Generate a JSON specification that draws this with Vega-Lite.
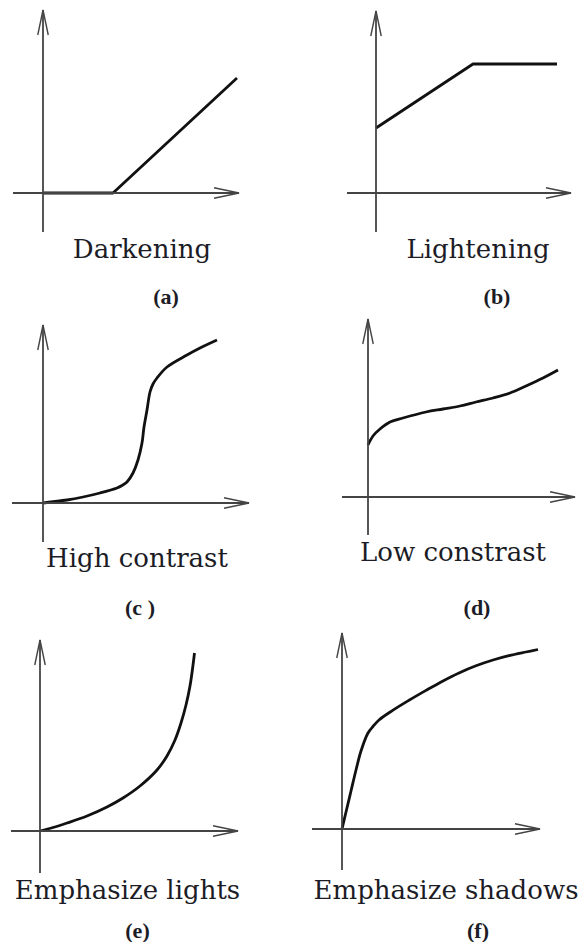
{
  "$schema": "https://vega.github.io/schema/vega-lite/v6.json",
  "padding": 0,
  "background": "white",
  "datasets": {
    "curves": [
      {"panel": "a", "input": 0.0, "output": 0.0},
      {"panel": "a", "input": 0.7, "output": 0.0},
      {"panel": "a", "input": 1.94, "output": 1.15},

      {"panel": "b", "input": 0.0, "output": 0.65},
      {"panel": "b", "input": 0.97, "output": 1.29},
      {"panel": "b", "input": 1.81, "output": 1.29},

      {"panel": "c", "input": 0.0, "output": 0.0},
      {"panel": "c", "input": 0.24, "output": 0.03},
      {"panel": "c", "input": 0.4, "output": 0.06},
      {"panel": "c", "input": 0.57, "output": 0.1},
      {"panel": "c", "input": 0.74, "output": 0.15},
      {"panel": "c", "input": 0.79, "output": 0.175},
      {"panel": "c", "input": 0.84, "output": 0.21},
      {"panel": "c", "input": 0.9, "output": 0.3},
      {"panel": "c", "input": 0.95, "output": 0.43},
      {"panel": "c", "input": 0.99, "output": 0.6},
      {"panel": "c", "input": 1.01, "output": 0.76},
      {"panel": "c", "input": 1.04, "output": 0.93},
      {"panel": "c", "input": 1.07, "output": 1.11},
      {"panel": "c", "input": 1.1, "output": 1.19},
      {"panel": "c", "input": 1.14, "output": 1.25},
      {"panel": "c", "input": 1.24, "output": 1.36},
      {"panel": "c", "input": 1.44, "output": 1.48},
      {"panel": "c", "input": 1.57, "output": 1.55},
      {"panel": "c", "input": 1.74, "output": 1.63},

      {"panel": "d", "input": 0.0, "output": 0.52},
      {"panel": "d", "input": 0.05, "output": 0.61},
      {"panel": "d", "input": 0.12, "output": 0.68},
      {"panel": "d", "input": 0.22, "output": 0.75},
      {"panel": "d", "input": 0.35, "output": 0.79},
      {"panel": "d", "input": 0.58, "output": 0.85},
      {"panel": "d", "input": 0.75, "output": 0.88},
      {"panel": "d", "input": 0.92, "output": 0.91},
      {"panel": "d", "input": 1.08, "output": 0.95},
      {"panel": "d", "input": 1.25, "output": 0.99},
      {"panel": "d", "input": 1.42, "output": 1.04},
      {"panel": "d", "input": 1.58, "output": 1.11},
      {"panel": "d", "input": 1.75, "output": 1.19},
      {"panel": "d", "input": 1.9, "output": 1.27},

      {"panel": "e", "input": 0.0, "output": 0.0},
      {"panel": "e", "input": 0.13, "output": 0.035},
      {"panel": "e", "input": 0.27, "output": 0.08},
      {"panel": "e", "input": 0.47, "output": 0.15},
      {"panel": "e", "input": 0.67, "output": 0.24},
      {"panel": "e", "input": 0.83, "output": 0.33},
      {"panel": "e", "input": 1.0, "output": 0.45},
      {"panel": "e", "input": 1.17, "output": 0.61},
      {"panel": "e", "input": 1.27, "output": 0.75},
      {"panel": "e", "input": 1.35, "output": 0.91},
      {"panel": "e", "input": 1.41, "output": 1.08},
      {"panel": "e", "input": 1.46, "output": 1.26},
      {"panel": "e", "input": 1.5, "output": 1.45},
      {"panel": "e", "input": 1.525, "output": 1.62},
      {"panel": "e", "input": 1.545, "output": 1.78},

      {"panel": "f", "input": 0.0, "output": 0.0},
      {"panel": "f", "input": 0.04, "output": 0.17},
      {"panel": "f", "input": 0.09, "output": 0.38},
      {"panel": "f", "input": 0.14, "output": 0.59},
      {"panel": "f", "input": 0.19, "output": 0.78},
      {"panel": "f", "input": 0.26, "output": 0.96},
      {"panel": "f", "input": 0.31, "output": 1.025},
      {"panel": "f", "input": 0.37, "output": 1.09},
      {"panel": "f", "input": 0.51, "output": 1.188},
      {"panel": "f", "input": 0.67, "output": 1.287},
      {"panel": "f", "input": 0.84, "output": 1.386},
      {"panel": "f", "input": 1.01, "output": 1.481},
      {"panel": "f", "input": 1.17, "output": 1.561},
      {"panel": "f", "input": 1.34, "output": 1.632},
      {"panel": "f", "input": 1.51, "output": 1.69},
      {"panel": "f", "input": 1.67, "output": 1.733},
      {"panel": "f", "input": 1.84, "output": 1.77},
      {"panel": "f", "input": 1.96, "output": 1.795}
    ]
  },
  "columns": 2,
  "align": "each",
  "bounds": "flush",
  "spacing": {"row": 70, "column": 0},
  "concat": [
    {
      "width": 293, "height": 240,
      "layer": [
        {"data": {"name": "curves"}, "transform": [{"filter": "datum.panel === 'a'"}],
         "mark": {"type": "line", "interpolate": "linear", "color": "#111", "strokeWidth": 2.8, "strokeJoin": "round"},
         "encoding": {
           "x": {"field": "input", "type": "quantitative", "scale": {"domain": [-0.43, 2.5], "nice": false, "zero": false}, "axis": null},
           "y": {"field": "output", "type": "quantitative", "scale": {"domain": [-0.47, 1.93], "nice": false, "zero": false}, "axis": null}}},
        {"data": {"values": [{}]}, "mark": {"type": "rule", "color": "#444", "strokeWidth": 1.8},
         "encoding": {"x": {"datum": -0.3, "type": "quantitative", "axis": null}, "x2": {"datum": 1.96}, "y": {"datum": 0, "type": "quantitative", "axis": null}}},
        {"data": {"values": [{}]}, "mark": {"type": "rule", "color": "#444", "strokeWidth": 1.8},
         "encoding": {"x": {"datum": 0, "type": "quantitative", "axis": null}, "y": {"datum": -0.39, "type": "quantitative", "axis": null}, "y2": {"datum": 1.83}}},
        {"data": {"values": [{}]}, "mark": {"type": "point", "shape": "M-2,-0.42L0,0L-2,0.42", "filled": false, "size": 625, "strokeWidth": 1.4, "color": "#444", "opacity": 1, "angle": 0},
         "encoding": {"x": {"datum": 1.96, "type": "quantitative", "axis": null}, "y": {"datum": 0, "type": "quantitative", "axis": null}}},
        {"data": {"values": [{}]}, "mark": {"type": "point", "shape": "M-2,-0.42L0,0L-2,0.42", "filled": false, "size": 625, "strokeWidth": 1.4, "color": "#444", "opacity": 1, "angle": -90},
         "encoding": {"x": {"datum": 0, "type": "quantitative", "axis": null}, "y": {"datum": 1.83, "type": "quantitative", "axis": null}}},
        {"data": {"values": [{}]}, "mark": {"type": "text", "text": "Darkening", "font": "DejaVu Serif", "fontSize": 26, "align": "center", "baseline": "alphabetic", "color": "#1c1c26"},
         "encoding": {"x": {"datum": 0.99, "type": "quantitative", "axis": null}, "y": {"datum": -0.65, "type": "quantitative", "axis": null}}},
        {"data": {"values": [{}]}, "mark": {"type": "text", "text": "(a)", "font": "Liberation Serif", "fontSize": 22, "fontWeight": "bold", "align": "center", "baseline": "alphabetic", "color": "#1c1c26"},
         "encoding": {"x": {"datum": 1.23, "type": "quantitative", "axis": null}, "y": {"datum": -1.11, "type": "quantitative", "axis": null}}}
      ]
    },
    {
      "width": 294, "height": 240,
      "layer": [
        {"data": {"name": "curves"}, "transform": [{"filter": "datum.panel === 'b'"}],
         "mark": {"type": "line", "interpolate": "linear", "color": "#111", "strokeWidth": 2.8, "strokeJoin": "round"},
         "encoding": {
           "x": {"field": "input", "type": "quantitative", "scale": {"domain": [-0.83, 2.11], "nice": false, "zero": false}, "axis": null},
           "y": {"field": "output", "type": "quantitative", "scale": {"domain": [-0.47, 1.93], "nice": false, "zero": false}, "axis": null}}},
        {"data": {"values": [{}]}, "mark": {"type": "rule", "color": "#444", "strokeWidth": 1.8},
         "encoding": {"x": {"datum": -0.29, "type": "quantitative", "axis": null}, "x2": {"datum": 1.95}, "y": {"datum": 0, "type": "quantitative", "axis": null}}},
        {"data": {"values": [{}]}, "mark": {"type": "rule", "color": "#444", "strokeWidth": 1.8},
         "encoding": {"x": {"datum": 0, "type": "quantitative", "axis": null}, "y": {"datum": -0.39, "type": "quantitative", "axis": null}, "y2": {"datum": 1.82}}},
        {"data": {"values": [{}]}, "mark": {"type": "point", "shape": "M-2,-0.42L0,0L-2,0.42", "filled": false, "size": 625, "strokeWidth": 1.4, "color": "#444", "opacity": 1, "angle": 0},
         "encoding": {"x": {"datum": 1.95, "type": "quantitative", "axis": null}, "y": {"datum": 0, "type": "quantitative", "axis": null}}},
        {"data": {"values": [{}]}, "mark": {"type": "point", "shape": "M-2,-0.42L0,0L-2,0.42", "filled": false, "size": 625, "strokeWidth": 1.4, "color": "#444", "opacity": 1, "angle": -90},
         "encoding": {"x": {"datum": 0, "type": "quantitative", "axis": null}, "y": {"datum": 1.82, "type": "quantitative", "axis": null}}},
        {"data": {"values": [{}]}, "mark": {"type": "text", "text": "Lightening", "font": "DejaVu Serif", "fontSize": 26, "align": "center", "baseline": "alphabetic", "color": "#1c1c26"},
         "encoding": {"x": {"datum": 1.02, "type": "quantitative", "axis": null}, "y": {"datum": -0.65, "type": "quantitative", "axis": null}}},
        {"data": {"values": [{}]}, "mark": {"type": "text", "text": "(b)", "font": "Liberation Serif", "fontSize": 22, "fontWeight": "bold", "align": "center", "baseline": "alphabetic", "color": "#1c1c26"},
         "encoding": {"x": {"datum": 1.21, "type": "quantitative", "axis": null}, "y": {"datum": -1.11, "type": "quantitative", "axis": null}}}
      ]
    },
    {
      "width": 293, "height": 240,
      "layer": [
        {"data": {"name": "curves"}, "transform": [{"filter": "datum.panel === 'c'"}],
         "mark": {"type": "line", "interpolate": "catmull-rom", "color": "#111", "strokeWidth": 2.8, "strokeJoin": "round"},
         "encoding": {
           "x": {"field": "input", "type": "quantitative", "scale": {"domain": [-0.43, 2.5], "nice": false, "zero": false}, "axis": null},
           "y": {"field": "output", "type": "quantitative", "scale": {"domain": [-0.47, 1.93], "nice": false, "zero": false}, "axis": null}}},
        {"data": {"values": [{}]}, "mark": {"type": "rule", "color": "#444", "strokeWidth": 1.8},
         "encoding": {"x": {"datum": -0.31, "type": "quantitative", "axis": null}, "x2": {"datum": 2.06}, "y": {"datum": 0, "type": "quantitative", "axis": null}}},
        {"data": {"values": [{}]}, "mark": {"type": "rule", "color": "#444", "strokeWidth": 1.8},
         "encoding": {"x": {"datum": 0, "type": "quantitative", "axis": null}, "y": {"datum": -0.39, "type": "quantitative", "axis": null}, "y2": {"datum": 1.78}}},
        {"data": {"values": [{}]}, "mark": {"type": "point", "shape": "M-2,-0.42L0,0L-2,0.42", "filled": false, "size": 625, "strokeWidth": 1.4, "color": "#444", "opacity": 1, "angle": 0},
         "encoding": {"x": {"datum": 2.06, "type": "quantitative", "axis": null}, "y": {"datum": 0, "type": "quantitative", "axis": null}}},
        {"data": {"values": [{}]}, "mark": {"type": "point", "shape": "M-2,-0.42L0,0L-2,0.42", "filled": false, "size": 625, "strokeWidth": 1.4, "color": "#444", "opacity": 1, "angle": -90},
         "encoding": {"x": {"datum": 0, "type": "quantitative", "axis": null}, "y": {"datum": 1.78, "type": "quantitative", "axis": null}}},
        {"data": {"values": [{}]}, "mark": {"type": "text", "text": "High contrast", "font": "DejaVu Serif", "fontSize": 26, "align": "center", "baseline": "alphabetic", "color": "#1c1c26"},
         "encoding": {"x": {"datum": 0.94, "type": "quantitative", "axis": null}, "y": {"datum": -0.64, "type": "quantitative", "axis": null}}},
        {"data": {"values": [{}]}, "mark": {"type": "text", "text": "(c )", "font": "Liberation Serif", "fontSize": 22, "fontWeight": "bold", "align": "center", "baseline": "alphabetic", "color": "#1c1c26"},
         "encoding": {"x": {"datum": 0.97, "type": "quantitative", "axis": null}, "y": {"datum": -1.12, "type": "quantitative", "axis": null}}}
      ]
    },
    {
      "width": 294, "height": 240,
      "layer": [
        {"data": {"name": "curves"}, "transform": [{"filter": "datum.panel === 'd'"}],
         "mark": {"type": "line", "interpolate": "catmull-rom", "color": "#111", "strokeWidth": 2.8, "strokeJoin": "round"},
         "encoding": {
           "x": {"field": "input", "type": "quantitative", "scale": {"domain": [-0.75, 2.19], "nice": false, "zero": false}, "axis": null},
           "y": {"field": "output", "type": "quantitative", "scale": {"domain": [-0.53, 1.87], "nice": false, "zero": false}, "axis": null}}},
        {"data": {"values": [{}]}, "mark": {"type": "rule", "color": "#444", "strokeWidth": 1.8},
         "encoding": {"x": {"datum": -0.26, "type": "quantitative", "axis": null}, "x2": {"datum": 2.07}, "y": {"datum": 0, "type": "quantitative", "axis": null}}},
        {"data": {"values": [{}]}, "mark": {"type": "rule", "color": "#444", "strokeWidth": 1.8},
         "encoding": {"x": {"datum": 0, "type": "quantitative", "axis": null}, "y": {"datum": -0.38, "type": "quantitative", "axis": null}, "y2": {"datum": 1.78}}},
        {"data": {"values": [{}]}, "mark": {"type": "point", "shape": "M-2,-0.42L0,0L-2,0.42", "filled": false, "size": 625, "strokeWidth": 1.4, "color": "#444", "opacity": 1, "angle": 0},
         "encoding": {"x": {"datum": 2.07, "type": "quantitative", "axis": null}, "y": {"datum": 0, "type": "quantitative", "axis": null}}},
        {"data": {"values": [{}]}, "mark": {"type": "point", "shape": "M-2,-0.42L0,0L-2,0.42", "filled": false, "size": 625, "strokeWidth": 1.4, "color": "#444", "opacity": 1, "angle": -90},
         "encoding": {"x": {"datum": 0, "type": "quantitative", "axis": null}, "y": {"datum": 1.78, "type": "quantitative", "axis": null}}},
        {"data": {"values": [{}]}, "mark": {"type": "text", "text": "Low constrast", "font": "DejaVu Serif", "fontSize": 26, "align": "center", "baseline": "alphabetic", "color": "#1c1c26"},
         "encoding": {"x": {"datum": 0.85, "type": "quantitative", "axis": null}, "y": {"datum": -0.64, "type": "quantitative", "axis": null}}},
        {"data": {"values": [{}]}, "mark": {"type": "text", "text": "(d)", "font": "Liberation Serif", "fontSize": 22, "fontWeight": "bold", "align": "center", "baseline": "alphabetic", "color": "#1c1c26"},
         "encoding": {"x": {"datum": 1.09, "type": "quantitative", "axis": null}, "y": {"datum": -1.18, "type": "quantitative", "axis": null}}}
      ]
    },
    {
      "width": 293, "height": 260,
      "layer": [
        {"data": {"name": "curves"}, "transform": [{"filter": "datum.panel === 'e'"}],
         "mark": {"type": "line", "interpolate": "catmull-rom", "color": "#111", "strokeWidth": 2.8, "strokeJoin": "round"},
         "encoding": {
           "x": {"field": "input", "type": "quantitative", "scale": {"domain": [-0.4, 2.53], "nice": false, "zero": false}, "axis": null},
           "y": {"field": "output", "type": "quantitative", "scale": {"domain": [-0.49, 2.11], "nice": false, "zero": false}, "axis": null}}},
        {"data": {"values": [{}]}, "mark": {"type": "rule", "color": "#444", "strokeWidth": 1.8},
         "encoding": {"x": {"datum": -0.29, "type": "quantitative", "axis": null}, "x2": {"datum": 1.98}, "y": {"datum": 0, "type": "quantitative", "axis": null}}},
        {"data": {"values": [{}]}, "mark": {"type": "rule", "color": "#444", "strokeWidth": 1.8},
         "encoding": {"x": {"datum": 0, "type": "quantitative", "axis": null}, "y": {"datum": -0.42, "type": "quantitative", "axis": null}, "y2": {"datum": 1.91}}},
        {"data": {"values": [{}]}, "mark": {"type": "point", "shape": "M-2,-0.42L0,0L-2,0.42", "filled": false, "size": 625, "strokeWidth": 1.4, "color": "#444", "opacity": 1, "angle": 0},
         "encoding": {"x": {"datum": 1.98, "type": "quantitative", "axis": null}, "y": {"datum": 0, "type": "quantitative", "axis": null}}},
        {"data": {"values": [{}]}, "mark": {"type": "point", "shape": "M-2,-0.42L0,0L-2,0.42", "filled": false, "size": 625, "strokeWidth": 1.4, "color": "#444", "opacity": 1, "angle": -90},
         "encoding": {"x": {"datum": 0, "type": "quantitative", "axis": null}, "y": {"datum": 1.91, "type": "quantitative", "axis": null}}},
        {"data": {"values": [{}]}, "mark": {"type": "text", "text": "Emphasize lights", "font": "DejaVu Serif", "fontSize": 26, "align": "center", "baseline": "alphabetic", "color": "#1c1c26"},
         "encoding": {"x": {"datum": 0.875, "type": "quantitative", "axis": null}, "y": {"datum": -0.68, "type": "quantitative", "axis": null}}},
        {"data": {"values": [{}]}, "mark": {"type": "text", "text": "(e)", "font": "Liberation Serif", "fontSize": 22, "fontWeight": "bold", "align": "center", "baseline": "alphabetic", "color": "#1c1c26"},
         "encoding": {"x": {"datum": 0.975, "type": "quantitative", "axis": null}, "y": {"datum": -1.07, "type": "quantitative", "axis": null}}}
      ]
    },
    {
      "width": 294, "height": 260,
      "layer": [
        {"data": {"name": "curves"}, "transform": [{"filter": "datum.panel === 'f'"}],
         "mark": {"type": "line", "interpolate": "catmull-rom", "color": "#111", "strokeWidth": 2.8, "strokeJoin": "round"},
         "encoding": {
           "x": {"field": "input", "type": "quantitative", "scale": {"domain": [-0.49, 2.45], "nice": false, "zero": false}, "axis": null},
           "y": {"field": "output", "type": "quantitative", "scale": {"domain": [-0.51, 2.09], "nice": false, "zero": false}, "axis": null}}},
        {"data": {"values": [{}]}, "mark": {"type": "rule", "color": "#444", "strokeWidth": 1.8},
         "encoding": {"x": {"datum": -0.3, "type": "quantitative", "axis": null}, "x2": {"datum": 1.98}, "y": {"datum": 0, "type": "quantitative", "axis": null}}},
        {"data": {"values": [{}]}, "mark": {"type": "rule", "color": "#444", "strokeWidth": 1.8},
         "encoding": {"x": {"datum": 0, "type": "quantitative", "axis": null}, "y": {"datum": -0.41, "type": "quantitative", "axis": null}, "y2": {"datum": 1.96}}},
        {"data": {"values": [{}]}, "mark": {"type": "point", "shape": "M-2,-0.42L0,0L-2,0.42", "filled": false, "size": 625, "strokeWidth": 1.4, "color": "#444", "opacity": 1, "angle": 0},
         "encoding": {"x": {"datum": 1.98, "type": "quantitative", "axis": null}, "y": {"datum": 0, "type": "quantitative", "axis": null}}},
        {"data": {"values": [{}]}, "mark": {"type": "point", "shape": "M-2,-0.42L0,0L-2,0.42", "filled": false, "size": 625, "strokeWidth": 1.4, "color": "#444", "opacity": 1, "angle": -90},
         "encoding": {"x": {"datum": 0, "type": "quantitative", "axis": null}, "y": {"datum": 1.96, "type": "quantitative", "axis": null}}},
        {"data": {"values": [{}]}, "mark": {"type": "text", "text": "Emphasize shadows", "font": "DejaVu Serif", "fontSize": 26, "align": "center", "baseline": "alphabetic", "color": "#1c1c26"},
         "encoding": {"x": {"datum": 1.04, "type": "quantitative", "axis": null}, "y": {"datum": -0.7, "type": "quantitative", "axis": null}}},
        {"data": {"values": [{}]}, "mark": {"type": "text", "text": "(f)", "font": "Liberation Serif", "fontSize": 22, "fontWeight": "bold", "align": "center", "baseline": "alphabetic", "color": "#1c1c26"},
         "encoding": {"x": {"datum": 1.36, "type": "quantitative", "axis": null}, "y": {"datum": -1.09, "type": "quantitative", "axis": null}}}
      ]
    }
  ],
  "config": {
    "view": {"stroke": null}
  }
}
